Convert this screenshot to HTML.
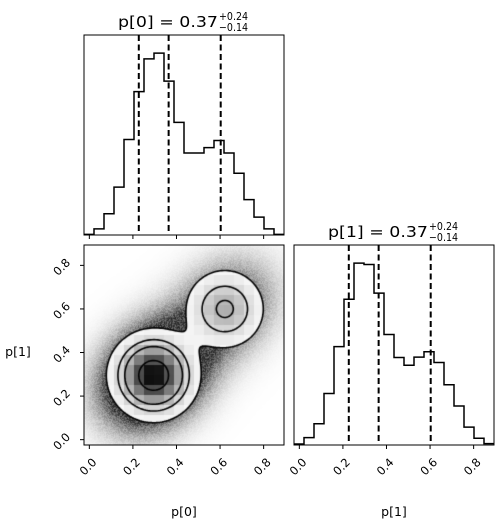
<!DOCTYPE html>
<html><head><meta charset="utf-8">
<style>
html,body{margin:0;padding:0;background:#fff;}
#wrap{position:relative;width:504px;height:529px;overflow:hidden;}
svg,canvas{position:absolute;left:0;top:0;}
text{font-family:"DejaVu Sans","Liberation Sans",sans-serif;fill:#000;}
</style></head>
<body>
<div id="wrap">
<canvas id="dens" width="504" height="529"></canvas>
<svg id="svg" width="504" height="529" xmlns="http://www.w3.org/2000/svg"></svg>
</div>
<script>
// ---- data ----
const binEdgesMin = -0.0245;
const binEdgesMax = 0.8935;
const histP0 = [2,18,63,142,283,425,522,539,456,334,243,243,259,280,243,183,105,53,18,2];
const histP1 = [3,22,63,153,292,433,540,536,451,328,260,237,261,277,245,179,116,53,20,4];
const quantP0 = [0.227,0.364,0.603];
const quantP1 = [0.227,0.364,0.603];
const tickVals = [0.0,0.2,0.4,0.6,0.8];
const tickLabels = ["0.0","0.2","0.4","0.6","0.8"];
const mixMeansX = [0.295,0.622];
const mixMeansY = [0.295,0.600];
const mixSigma = [0.10,0.10];
const mixWeight = [0.6,0.27];
const contourLevels = [0.057,0.157,0.25,0.475];

// ---- layout ----
const NS="http://www.w3.org/2000/svg";
const svg=document.getElementById('svg');
const P={top:{x:84,y:35,w:200,h:200},mid:{x:84,y:245,w:200,h:200},right:{x:294,y:245,w:200,h:200}};
function sx(p,v){return p.x+(v-binEdgesMin)/(binEdgesMax-binEdgesMin)*p.w;}
function sy(p,v){return p.y+p.h-(v-binEdgesMin)/(binEdgesMax-binEdgesMin)*p.h;}
function mk(tag,attrs,parent){const e=document.createElementNS(NS,tag);for(const k in attrs)e.setAttribute(k,attrs[k]);(parent||svg).appendChild(e);return e;}

function density(x,y){let d=0;for(let i=0;i<mixWeight.length;i++){const dx=x-mixMeansX[i],dy=y-mixMeansY[i],s=mixSigma[i];d+=mixWeight[i]*Math.exp(-(dx*dx+dy*dy)/(2*s*s));}return d;}
function cloud(x,y){let d=0;for(let i=0;i<mixWeight.length;i++){const dx=x-mixMeansX[i],dy=y-mixMeansY[i];
  const u=(dx+dy)/Math.SQRT2,w=(dx-dy)/Math.SQRT2;const su=mixSigma[i]*1.75,sw=mixSigma[i]*1.4;
  d+=mixWeight[i]*Math.exp(-(u*u)/(2*su*su)-(w*w)/(2*sw*sw));}return d;}

// ---- density canvas ----
const cv=document.getElementById('dens');const ctx=cv.getContext('2d');
const p=P.mid;
const img=ctx.createImageData(p.w,p.h);
const nb=histP0.length;const bw=(binEdgesMax-binEdgesMin)/nb;
function hashNoise(i,j){let h=(i*374761393+j*668265263)|0;h=(h^(h>>>13))*1274126177|0;return ((h^(h>>>16))>>>0)/4294967295;}
for(let j=0;j<p.h;j++){for(let i=0;i<p.w;i++){
  const x=binEdgesMin+(i+0.5)/p.w*(binEdgesMax-binEdgesMin);
  const y=binEdgesMin+(p.h-j-0.5)/p.h*(binEdgesMax-binEdgesMin);
  const d=density(x,y);let g;
  if(d>=contourLevels[0]){
    const cx=binEdgesMin+(Math.floor((x-binEdgesMin)/bw)+0.5)*bw;
    const cy=binEdgesMin+(Math.floor((y-binEdgesMin)/bw)+0.5)*bw;
    const v=Math.min(1,density(cx,cy)/0.6);
    g=255*(1-Math.pow(v,1.4));if(g>250)g=250;
  }else{
    const r=Math.min(1,cloud(x,y)/0.24);
    let a=0.72*Math.pow(r,1.3);
    a*=(0.75+0.5*hashNoise(i,j));
    if(a>0.85)a=0.85;
    g=255*(1-a);
  }
  const k=(j*p.w+i)*4;img.data[k]=img.data[k+1]=img.data[k+2]=g;img.data[k+3]=255;
}}
ctx.putImageData(img,p.x,p.y);
// contours via marching squares
ctx.strokeStyle='#000';ctx.lineWidth=1.6;
const step=2;
for(const L of contourLevels){
  ctx.beginPath();
  for(let j=0;j<p.h;j+=step){for(let i=0;i<p.w;i+=step){
    const px=[i,i+step,i+step,i],py=[j,j,j+step,j+step];
    const v=px.map((xx,q)=>density(binEdgesMin+xx/p.w*(binEdgesMax-binEdgesMin),binEdgesMin+(p.h-py[q])/p.h*(binEdgesMax-binEdgesMin)));
    const pts=[];
    for(let e=0;e<4;e++){const a=e,b=(e+1)%4;
      if((v[a]>=L)!==(v[b]>=L)){const t=(L-v[a])/(v[b]-v[a]);pts.push([px[a]+t*(px[b]-px[a]),py[a]+t*(py[b]-py[a])]);}}
    for(let q=0;q+1<pts.length;q+=2){ctx.moveTo(p.x+pts[q][0],p.y+pts[q][1]);ctx.lineTo(p.x+pts[q+1][0],p.y+pts[q+1][1]);}
  }}
  ctx.stroke();
}

// ---- histograms ----
function hist(panel,vals,quants,name){
  const mx=Math.max(...vals)*1.1;
  let d='';
  vals.forEach((v,i)=>{const x0=sx(panel,binEdgesMin+i*bw),x1=sx(panel,binEdgesMin+(i+1)*bw);const y=panel.y+panel.h-v/mx*panel.h;d+=(i===0?'M':'L')+x0+','+y+'L'+x1+','+y;});
  const h=mk('path',{d:d,fill:'none',stroke:'#000','stroke-width':1.5});
  
  
  quants.forEach((q,k)=>{const x=sx(panel,q);
    const l=mk('line',{x1:x,x2:x,y1:panel.y,y2:panel.y+panel.h,stroke:'#000','stroke-width':2,'stroke-dasharray':'6,3.5'});
    
    });
}
hist(P.top,histP0,quantP0,'p0');
hist(P.right,histP1,quantP1,'p1');

// ---- frames and ticks ----
function frame(panel,name){const r=mk('rect',{x:panel.x,y:panel.y,width:panel.w,height:panel.h,fill:'none',stroke:'#000','stroke-width':1});
  
  }
frame(P.top,'p0-hist');frame(P.mid,'p0-p1-density');frame(P.right,'p1-hist');
function xticks(panel,labels,name){tickVals.forEach((v,k)=>{const x=sx(panel,v);
  mk('line',{x1:x,x2:x,y1:panel.y+panel.h,y2:panel.y+panel.h+4,stroke:'#000','stroke-width':1});
  if(labels){const t=mk('text',{x:0,y:0,'font-size':11.5,'text-anchor':'middle','dominant-baseline':'middle',transform:'translate('+(x-1)+','+(panel.y+panel.h+22)+') rotate(-45)'});
    t.textContent=tickLabels[k];
    
    }});}
xticks(P.top,false,'p0-hist');xticks(P.mid,true,'density');xticks(P.right,true,'p1-hist');
tickVals.forEach((v,k)=>{const y=sy(P.mid,v);
  mk('line',{x1:P.mid.x-4,x2:P.mid.x,y1:y,y2:y,stroke:'#000','stroke-width':1});
  const t=mk('text',{x:0,y:0,'font-size':11.5,'text-anchor':'middle','dominant-baseline':'middle',transform:'translate('+(P.mid.x-22)+','+(y+2)+') rotate(-45)'});
  t.textContent=tickLabels[k];
  
  });
</script>
<svg width="504" height="529" style="position:absolute;left:0;top:0">
<g>
<text x="118" y="27" font-size="15" textLength="100" lengthAdjust="spacingAndGlyphs">p[0] = 0.37</text>
<text x="219" y="20" font-size="10.5" textLength="29" lengthAdjust="spacingAndGlyphs">+0.24</text>
<text x="219" y="31" font-size="10.5" textLength="29" lengthAdjust="spacingAndGlyphs">−0.14</text>
</g>
<g>
<text x="328" y="237" font-size="15" textLength="100" lengthAdjust="spacingAndGlyphs">p[1] = 0.37</text>
<text x="429" y="230" font-size="10.5" textLength="29" lengthAdjust="spacingAndGlyphs">+0.24</text>
<text x="429" y="241" font-size="10.5" textLength="29" lengthAdjust="spacingAndGlyphs">−0.14</text>
</g>
<text x="184" y="516" font-size="12.5" text-anchor="middle">p[0]</text>
<text x="394" y="516" font-size="12.5" text-anchor="middle">p[1]</text>
<text x="18" y="356" font-size="12.5" text-anchor="middle">p[1]</text>
</svg>
</body></html>
